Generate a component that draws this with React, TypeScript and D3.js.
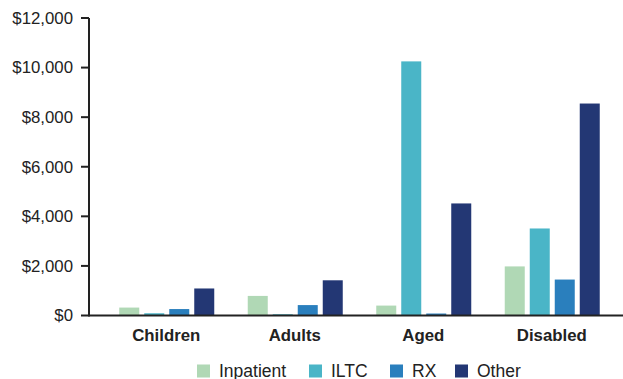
import React from "react";
import * as d3 from "d3";

const categories = ["Children", "Adults", "Aged", "Disabled"];
const seriesNames = ["Inpatient", "ILTC", "RX", "Other"];
const inpatient = [320, 790, 400, 1980];
const iltc = [90, 50, 10250, 3510];
const rx = [260, 420, 80, 1450];
const other = [1090, 1420, 4520, 8550];
const yTicks = [0, 2000, 4000, 6000, 8000, 10000, 12000];
const colors = ["#b0d8b5", "#4ab5c7", "#2a7fbd", "#233774"];

const W = 623;
const H = 379;

export default function App() {
  const series = [inpatient, iltc, rx, other];
  const x = d3.scaleBand<string>().domain(categories).range([102, 616]).paddingInner(0).paddingOuter(0);
  const inner = d3.scaleBand<string>().domain(seriesNames).range([-47, 48]).paddingInner(0.2);
  const y = d3.scaleLinear().domain([0, 12000]).range([315.5, 18]);
  const fmt = (v: number) => "$" + d3.format(",")(v);
  const legendX = [197, 309, 390, 455];
  return (
    <svg width={W} height={H} style={{ position: "absolute", left: 0, top: 0, fontFamily: "Liberation Sans, Arial, sans-serif" }}>
      {categories.map((c, ci) =>
        series.map((s, si) => {
          const cx = (x(c) as number) + x.bandwidth() / 2;
          const bx = cx + (inner(seriesNames[si]) as number);
          return (
            <rect key={c + si} x={bx} y={y(s[ci])} width={inner.bandwidth()} height={y(0) - y(s[ci])} fill={colors[si]} />
          );
        })
      )}
      <line x1={89} x2={623} y1={y(0)} y2={y(0)} stroke="#222" strokeWidth={2} />
      <line x1={89} x2={89} y1={y(12000)} y2={y(0) + 1} stroke="#222" strokeWidth={2} />
      {yTicks.map((t) => (
        <g key={t}>
          <line x1={81} x2={89} y1={y(t)} y2={y(t)} stroke="#222" strokeWidth={2} />
          <text x={73} y={y(t)} dy="0.35em" textAnchor="end" fontSize={16.8} fill="#222">
            {fmt(t)}
          </text>
        </g>
      ))}
      {categories.map((c) => (
        <text key={c} x={(x(c) as number) + x.bandwidth() / 2} y={341} textAnchor="middle" fontSize={16.8} fontWeight="bold" fill="#222">
          {c}
        </text>
      ))}
      {seriesNames.map((n, i) => (
        <g key={n}>
          <rect x={legendX[i]} y={364.5} width={13} height={13} fill={colors[i]} />
          <text x={legendX[i] + 22} y={377} fontSize={17.5} fill="#222">
            {n}
          </text>
        </g>
      ))}
    </svg>
  );
}
